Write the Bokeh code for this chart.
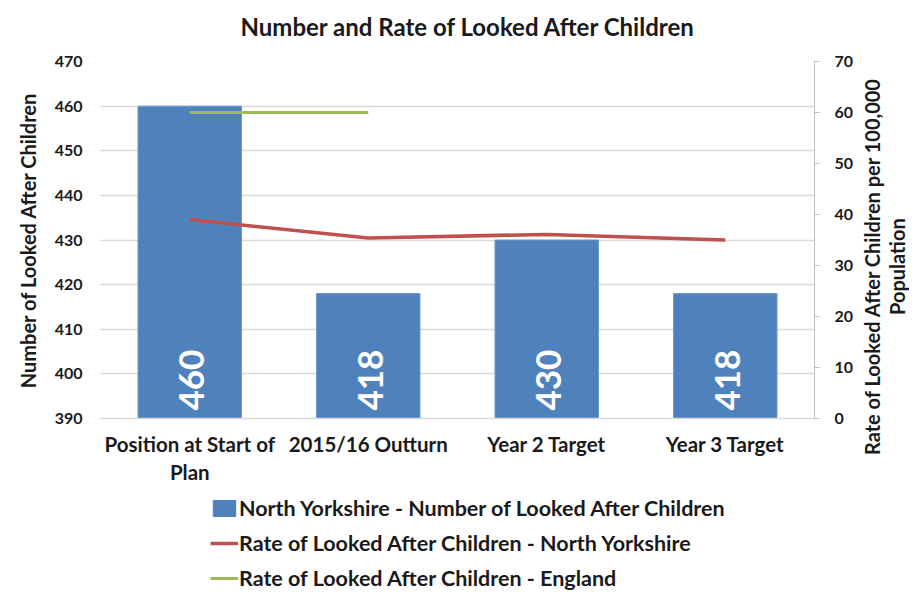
from bokeh.plotting import figure
from bokeh.models import Range1d, LinearAxis, Legend, LegendItem, FixedTicker, ColumnDataSource, Title, Div
from bokeh.layouts import column, row
from bokeh.embed import file_html
from bokeh.resources import INLINE
from bokeh.core.properties import value
import math

categories = ["Position at Start of\nPlan", "2015/16 Outturn", "Year 2 Target", "Year 3 Target"]
number_lac = [460, 418, 430, 418]
rate_ny = [39.0, 35.4, 36.1, 35.0]
rate_england = [60, 60]
england_cats = categories[:2]
labels = [str(v) for v in number_lac]
series_names = ["North Yorkshire - Number of Looked After Children",
                "Rate of Looked After Children - North Yorkshire",
                "Rate of Looked After Children - England"]
chart_title = "Number and Rate of Looked After Children"
left_label = "Number of Looked After Children"
right_label_lines = ["Rate of Looked After Children per 100,000", "Population"]

FONT = "Lato"
TXT = "#1a1a1a"
BAR = "#4F81BD"
RED = "#C0504D"
GREEN = "#9BBB59"

p = figure(width=860, height=487, x_range=categories, y_range=Range1d(390, 470),
           output_backend="svg", toolbar_location=None,
           min_border_left=100, min_border_right=46, min_border_top=61, min_border_bottom=69)
p.extra_y_ranges = {"rate": Range1d(0, 70)}
p.outline_line_color = None
p.title_location = None

# spacer first (closest to frame), then the real title above it
p.add_layout(Title(text=" ", text_font_size="14px", standoff=3), "above")
p.add_layout(Title(text=chart_title, align="left", offset=140, standoff=0,
                   text_font=FONT, text_font_size="24px", text_font_style="bold",
                   text_color=TXT), "above")

src = ColumnDataSource(dict(x=categories, top=number_lac, lab=labels))
p.vbar(x="x", top="top", bottom=390, width=0.58, source=src,
       fill_color=BAR, line_color="#6d9bd1", line_width=1)
p.text(x="x", y=390, text="lab", source=src, angle=math.pi / 2,
       text_align="left", text_baseline="middle", y_offset=-8, x_offset=2,
       text_color="white", text_font=value(FONT), text_font_size="35px",
       text_font_style="bold")

p.line(x=categories, y=rate_ny, y_range_name="rate", line_color=RED, line_width=3.5)
p.line(x=england_cats, y=rate_england, y_range_name="rate", line_color=GREEN, line_width=3)

# left axis
ya = p.yaxis[0]
ya.ticker = FixedTicker(ticks=list(range(390, 471, 10)))
ya.axis_label = left_label
ya.axis_line_color = None
ya.major_tick_line_color = None
ya.minor_tick_line_color = None
ya.major_label_text_font = FONT
ya.major_label_text_font_size = "16px"
ya.major_label_text_font_style = "bold"
ya.major_label_text_color = TXT
ya.major_label_standoff = 12
ya.axis_label_text_font = FONT
ya.axis_label_text_font_size = "20px"
ya.axis_label_text_font_style = "bold"
ya.axis_label_text_color = TXT
ya.axis_label_standoff = 12

# right axis (its title is drawn in the side text block)
ra = LinearAxis(y_range_name="rate", ticker=FixedTicker(ticks=list(range(0, 71, 10))))
ra.axis_line_color = "#BFBFBF"
ra.major_tick_line_color = "#BFBFBF"
ra.major_tick_out = 5
ra.major_tick_in = 0
ra.minor_tick_line_color = None
ra.major_label_text_font = FONT
ra.major_label_text_font_size = "16px"
ra.major_label_text_font_style = "bold"
ra.major_label_text_color = TXT
ra.major_label_standoff = 15
p.add_layout(ra, "right")

# x axis
xa = p.xaxis[0]
xa.axis_line_color = "#D9D9D9"
xa.axis_line_width = 1.5
xa.major_tick_line_color = None
xa.minor_tick_line_color = None
xa.major_label_text_font = FONT
xa.major_label_text_font_size = "20.5px"
xa.major_label_text_font_style = "bold"
xa.major_label_text_color = TXT
xa.major_label_standoff = 7

p.xgrid.grid_line_color = None
p.ygrid.grid_line_color = "#D9D9D9"
p.ygrid.grid_line_width = 1.5

# right-hand axis title, reading bottom to top
side = Div(width=47, height=487, margin=0,
           text=('<div style="writing-mode:vertical-rl; transform:rotate(180deg); '
                 'height:440px; margin-top:47px; text-align:center; white-space:nowrap; '
                 'font-family:Lato; font-weight:bold; font-size:20px; line-height:25px; '
                 'color:%s;">%s<br>%s</div>') % (TXT, right_label_lines[0], right_label_lines[1]),
           styles={"overflow": "visible"})

# legend panel: same series drawn outside its visible range, only the legend shows
lg = figure(width=907, height=104, x_range=categories, y_range=Range1d(1000, 1001),
            output_backend="svg", toolbar_location=None, min_border=0,
            x_axis_location=None, y_axis_location=None)
lg.extra_y_ranges = {"rate": Range1d(1000, 1001)}
lg.grid.visible = False
lg.outline_line_color = None
b2 = lg.vbar(x="x", top="top", bottom=390, width=0.58, source=src, fill_color=BAR, line_color=BAR)
r2 = lg.line(x=categories, y=rate_ny, y_range_name="rate", line_color=RED, line_width=3.5)
g2 = lg.line(x=england_cats, y=rate_england, y_range_name="rate", line_color=GREEN, line_width=3)

legend = Legend(items=[
    LegendItem(label=series_names[0], renderers=[b2]),
    LegendItem(label=series_names[1], renderers=[r2]),
    LegendItem(label=series_names[2], renderers=[g2]),
], orientation="vertical", location=(210, 0))
legend.border_line_color = None
legend.background_fill_alpha = 0
legend.label_text_font = FONT
legend.label_text_font_size = "21.5px"
legend.label_text_font_style = "bold"
legend.label_text_color = TXT
legend.glyph_width = 28
legend.glyph_height = 20
legend.label_height = 20
legend.spacing = 9
legend.label_standoff = 1
legend.padding = 0
legend.margin = 0
lg.add_layout(legend, "center")

layout = column(row(p, side, spacing=0), lg, spacing=0)
open("out.html", "w").write(file_html(layout, INLINE))
